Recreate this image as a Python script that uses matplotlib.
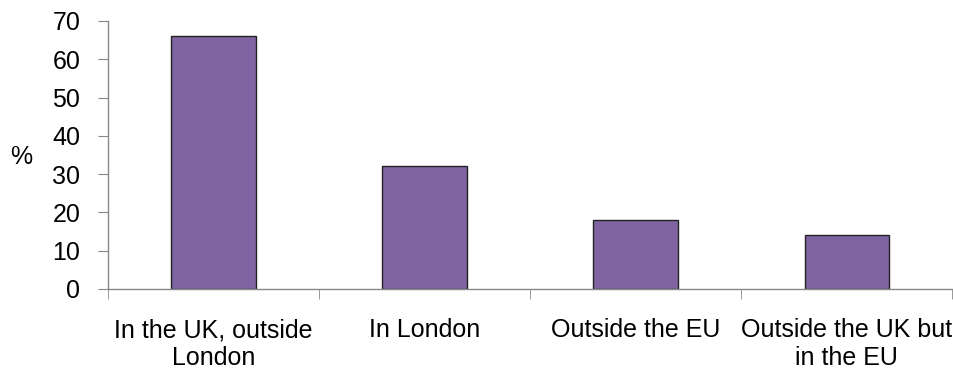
import matplotlib.pyplot as plt
import numpy as np

categories = ["In the UK, outside\nLondon", "In London", "Outside the EU", "Outside the UK but\nin the EU"]
values = [66, 32, 18, 14]

plt.rcParams['font.family'] = ['Liberation Sans Narrow', 'Liberation Sans', 'DejaVu Sans']

fig = plt.figure(figsize=(9.54, 3.81), dpi=100)
ax = fig.add_axes([0.1132, 0.2415, 0.885, 0.7034])

x = np.arange(len(categories))
ax.bar(x, values, width=0.4, color="#8064A2", edgecolor="#222222", linewidth=1.0)

ax.set_xlim(-0.5, len(categories) - 0.5)
ax.set_ylim(0, 70)
ax.set_yticks(range(0, 71, 10))
ax.tick_params(axis="y", labelsize=18, length=7, color="#888888", pad=13)

# category labels centred under bars, tick marks on the boundaries
ax.set_xticks(x)
ax.set_xticklabels(categories, fontsize=18, linespacing=1.2)
ax.tick_params(axis="x", length=0, pad=21)
ax.set_xticks(np.arange(-0.5, len(categories)), minor=True)
ax.tick_params(axis="x", which="minor", length=7, color="#888888")

for side in ["top", "right"]:
    ax.spines[side].set_visible(False)
for side in ["left", "bottom"]:
    ax.spines[side].set_color("#888888")
    ax.spines[side].set_linewidth(1.0)

# axis unit shown as a plain label to the left of the ticks
fig.text(0.022, 0.588, "%", fontsize=18, ha="center", va="center")

fig.savefig("out.png", dpi=100)
